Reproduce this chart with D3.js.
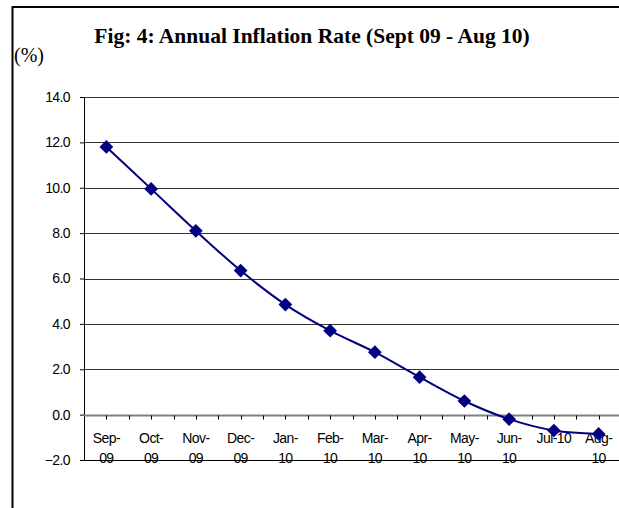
<!DOCTYPE html>
<html>
<head>
<meta charset="utf-8">
<title>Annual Inflation Rate</title>
<script src="https://cdnjs.cloudflare.com/ajax/libs/d3/7.8.5/d3.min.js"></script>
<style>
  body { margin: 0; background: #fff; }
  .tick text { font: 14px "Liberation Sans", Arial, sans-serif; fill: #000; letter-spacing: -0.6px; }
  .line { fill: none; stroke: #000080; stroke-width: 2px; }
</style>
</head>
<body>
<svg id="chart" width="619" height="508"></svg>
<script>
// data
var months = ["Sep-", "Oct-", "Nov-", "Dec-", "Jan-", "Feb-", "Mar-", "Apr-", "May-", "Jun-", "Jul-10", "Aug-"];
var years  = ["09", "09", "09", "09", "10", "10", "10", "10", "10", "10", "", "10"];
var inflation = [11.8, 9.95, 8.1, 6.35, 4.85, 3.7, 2.75, 1.65, 0.6, -0.2, -0.7, -0.85];
var yTicks = [-2, 0, 2, 4, 6, 8, 10, 12, 14];

var svg = d3.select("svg"),
    margin = {top: 97, right: -2, bottom: 48, left: 84},
    width = +svg.attr("width") - margin.left - margin.right,
    height = +svg.attr("height") - margin.top - margin.bottom;

// outer frame (only left and top edges are in view)
svg.append("line").attr("x1", 12.5).attr("x2", 12.5).attr("y1", 6).attr("y2", 508)
    .attr("stroke", "#000").attr("stroke-width", 2);
svg.append("line").attr("x1", 12).attr("x2", 619).attr("y1", 7).attr("y2", 7)
    .attr("stroke", "#000").attr("stroke-width", 2);

svg.append("text")
    .attr("x", 312).attr("y", 43)
    .attr("text-anchor", "middle")
    .style("font", "bold 21.5px 'Liberation Serif', 'Times New Roman', serif")
    .text("Fig: 4: Annual Inflation Rate (Sept 09 - Aug 10)");

svg.append("text")
    .attr("x", 14).attr("y", 62)
    .style("font", "20px 'Liberation Serif', 'Times New Roman', serif")
    .text("(%)");

var g = svg.append("g").attr("transform", "translate(" + margin.left + "," + margin.top + ")");

var x = d3.scaleBand().domain(d3.range(months.length)).range([0, width]);
var y = d3.scaleLinear().domain([-2, 14]).range([height, 0]);

// gridlines
g.append("g")
    .selectAll("line")
    .data(yTicks.filter(function(d) { return d !== 0 && d !== -2; }))
    .enter().append("line")
    .attr("x1", 0).attr("x2", width)
    .attr("y1", function(d) { return Math.round(y(d)) + 0.5; })
    .attr("y2", function(d) { return Math.round(y(d)) + 0.5; })
    .attr("stroke", "#333").attr("stroke-width", 1);

// bottom border of plot area
g.append("line")
    .attr("x1", 0).attr("x2", width)
    .attr("y1", Math.round(height) + 0.5).attr("y2", Math.round(height) + 0.5)
    .attr("stroke", "#000");

// y axis
var yAxis = g.append("g")
    .call(d3.axisLeft(y).tickValues(yTicks).tickSize(4).tickPadding(10)
      .tickFormat(d3.format(".1f")));
yAxis.select(".domain").attr("stroke", "#000");
yAxis.selectAll(".tick line").attr("stroke", "#000");

// zero line with ticks at centres and edges of each category
var y0 = Math.round(y(0)) + 0.5;
g.append("line")
    .attr("x1", 0).attr("x2", width).attr("y1", y0).attr("y2", y0)
    .attr("stroke", "#808080").attr("stroke-width", 2);

var halfSteps = d3.range(1, months.length * 2).map(function(i) { return i * x.bandwidth() / 2; });
g.append("g")
    .selectAll("line")
    .data(halfSteps)
    .enter().append("line")
    .attr("x1", function(d) { return Math.round(d) + 0.5; })
    .attr("x2", function(d) { return Math.round(d) + 0.5; })
    .attr("y1", y0).attr("y2", y0 + 4)
    .attr("stroke", "#000");

// category labels (two lines)
var labels = g.append("g")
    .selectAll("text")
    .data(months)
    .enter().append("text")
    .attr("text-anchor", "middle")
    .attr("transform", function(d, i) { return "translate(" + (x(i) + x.bandwidth() / 2) + "," + (y0 + 27) + ")"; })
    .style("font", "14px 'Liberation Sans', Arial, sans-serif")
    .style("letter-spacing", "-0.6px");
labels.append("tspan").attr("x", 0).attr("y", 0).text(function(d) { return d; });
labels.append("tspan").attr("x", 0).attr("y", 20).text(function(d, i) { return years[i]; });

// series
var line = d3.line()
    .curve(d3.curveCatmullRom.alpha(0))
    .x(function(d, i) { return x(i) + x.bandwidth() / 2; })
    .y(function(d) { return y(d); });

g.append("path")
    .datum(inflation)
    .attr("class", "line")
    .attr("d", line);

g.append("g")
    .selectAll("path")
    .data(inflation)
    .enter().append("path")
    .attr("d", d3.symbol().type(d3.symbolDiamond2).size(120))
    .attr("transform", function(d, i) { return "translate(" + (x(i) + x.bandwidth() / 2) + "," + y(d) + ")"; })
    .attr("fill", "#000080");
</script>
</body>
</html>
